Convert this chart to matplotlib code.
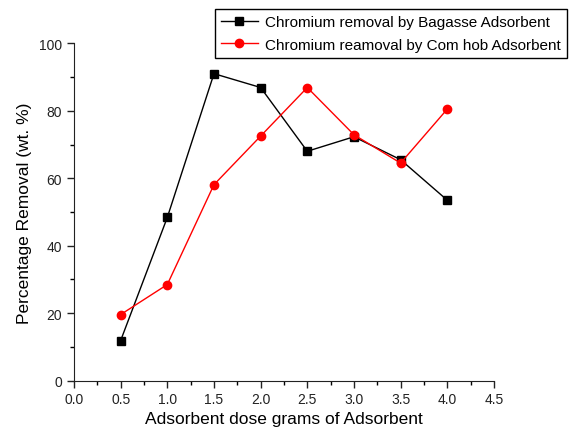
import matplotlib
matplotlib.use("Agg")
import matplotlib.pyplot as plt
from matplotlib.ticker import MultipleLocator

plt.rcParams['font.family'] = ['Liberation Sans', 'DejaVu Sans']

dose = [0.5, 1.0, 1.5, 2.0, 2.5, 3.0, 3.5, 4.0]
bagasse = [11.9, 48.4, 91.0, 86.9, 68.0, 72.3, 65.5, 53.5]
corncob = [19.6, 28.5, 58.1, 72.5, 86.9, 72.9, 64.5, 80.5]

label_bagasse = "Chromium removal by Bagasse Adsorbent"
label_corncob = "Chromium reamoval by Com hob Adsorbent"

fig = plt.figure(figsize=(5.71, 4.31), dpi=100)
ax = fig.add_axes([0.1296, 0.1144, 0.7354, 0.7828])

ax.plot(dose, bagasse, color='black', marker='s', markersize=6, linewidth=1, label=label_bagasse)
ax.plot(dose, corncob, color='red', marker='o', markersize=6, linewidth=1, label=label_corncob)

ax.set_xlim(0, 4.5)
ax.set_ylim(0, 100)
ax.xaxis.set_major_locator(MultipleLocator(0.5))
ax.xaxis.set_minor_locator(MultipleLocator(0.25))
ax.yaxis.set_major_locator(MultipleLocator(20))
ax.yaxis.set_minor_locator(MultipleLocator(10))
ax.tick_params(which='major', direction='out', length=5, width=1, labelsize=10, colors='#222222')
ax.tick_params(which='minor', direction='out', length=3, width=1)
for s in ['top', 'right']:
    ax.spines[s].set_visible(False)
ax.spines['left'].set_color('#222222')
ax.spines['bottom'].set_color('#222222')

ax.set_xlabel("Adsorbent dose grams of Adsorbent", fontsize=12.5, labelpad=3)
ax.set_ylabel("Percentage Removal (wt. %)", fontsize=12.5, labelpad=5)

leg = fig.legend(loc='upper left', bbox_to_anchor=(215/571, 1 - 10/431), fontsize=11,
                 frameon=True, fancybox=False, edgecolor='black', framealpha=1,
                 borderpad=0.4, handlelength=2.4, handletextpad=0.5, labelspacing=0.55,
                 borderaxespad=0)
leg.get_frame().set_linewidth(1)

fig.savefig("out.png", dpi=100)
